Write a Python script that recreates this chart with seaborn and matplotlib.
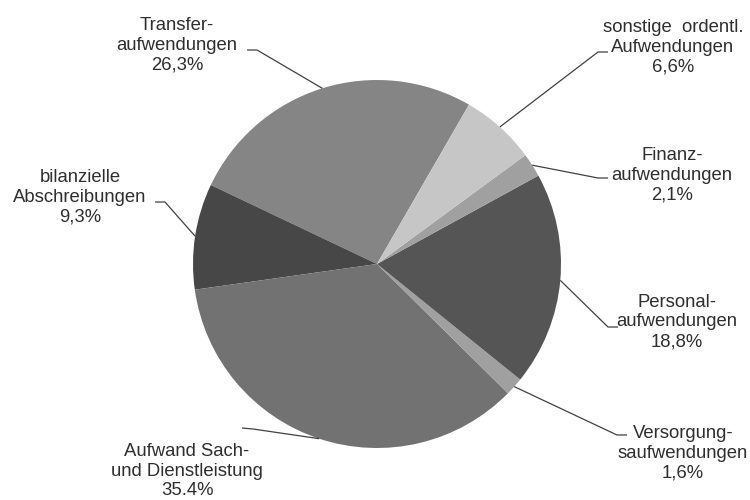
import numpy as np
import matplotlib
matplotlib.use("Agg")
import matplotlib.pyplot as plt
import seaborn as sns

# Aufwandsstruktur (Anteile in %)
categories = [
    "Transfer-\naufwendungen",
    "bilanzielle\nAbschreibungen",
    "Aufwand Sach-\nund Dienstleistung",
    "Versorgung-\nsaufwendungen",
    "Personal-\naufwendungen",
    "Finanz-\naufwendungen",
    "sonstige  ordentl.\nAufwendungen",
]
shares = [26.3, 9.3, 35.4, 1.6, 18.8, 2.1, 6.6]
pct_labels = ["26,3%", "9,3%", "35.4%", "1,6%", "18,8%", "2,1%", "6,6%"]
colors = ["#858585", "#474747", "#727272", "#a0a0a0", "#555555", "#a0a0a0", "#c6c6c6"]

sns.set_theme(style="white")
plt.rcParams["font.family"] = ["Liberation Sans", "DejaVu Sans"]

# pixel layout helpers (pie centre 377/264, radius 184 px)
CX, CY, R = 377, 264, 184


def px(x, y):
    return (x - CX) / R, (CY - y) / R


# label text centre, elbow point and end of horizontal stub (pixels)
label_layout = [
    ((177, 45), (257, 50), (247, 50)),
    ((80, 197), (165, 202), (155, 202)),
    ((187, 471), (253, 429), (242, 428)),
    ((683, 453), (617, 435), (627, 435)),
    ((677, 322), (608, 327), (618, 327)),
    ((672, 175), (598, 178), (608, 178)),
    ((673, 47), (598, 52), (608, 52)),
]

fig = plt.figure(figsize=(7.5, 5), dpi=100)
ax = fig.add_axes([0, 0, 1, 1])
wedges, _ = ax.pie(shares, colors=colors, startangle=60, counterclock=True,
                   radius=1, wedgeprops=dict(linewidth=0))

for w, cat, pct, (tpos, elbow, end) in zip(wedges, categories, pct_labels, label_layout):
    mid = np.deg2rad((w.theta1 + w.theta2) / 2)
    edge = (np.cos(mid), np.sin(mid))
    e1 = px(*elbow)
    e2 = px(*end)
    ax.plot([edge[0], e1[0], e2[0]], [edge[1], e1[1], e2[1]],
            color="#404040", linewidth=0.9, solid_capstyle="butt")
    tx, ty = px(*tpos)
    ax.text(tx, ty, f"{cat}\n{pct}", ha="center", va="center",
            multialignment="center", fontsize=13.3, color="#2e2e2e",
            linespacing=1.2)

ax.set_xlim(-CX / R, (750 - CX) / R)
ax.set_ylim(-(500 - CY) / R, CY / R)
ax.set_aspect("equal")
ax.axis("off")

fig.savefig("out.png", dpi=100)
